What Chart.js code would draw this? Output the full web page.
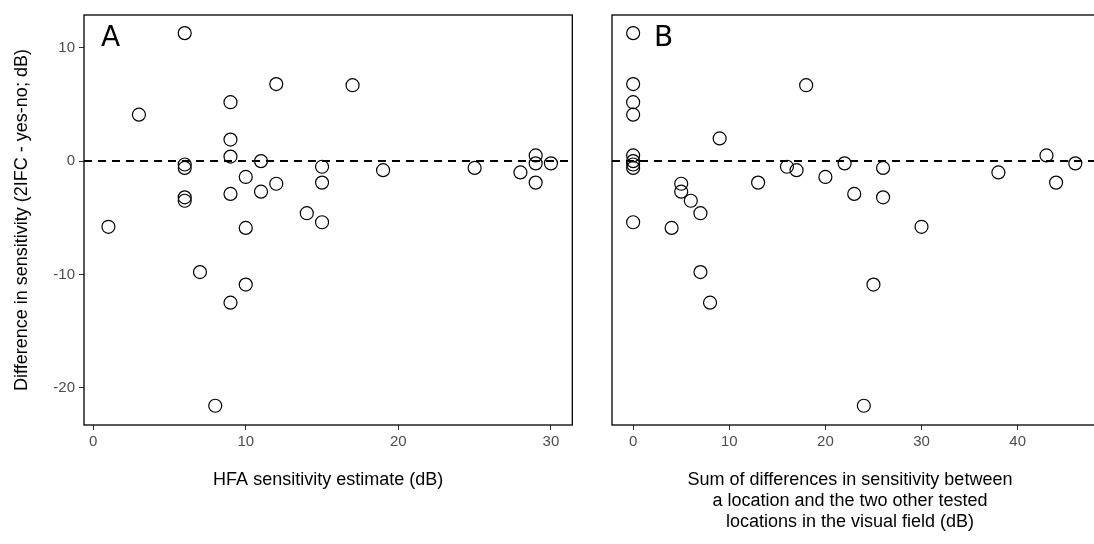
<!DOCTYPE html>
<html><head><meta charset="utf-8">
<script src="https://cdn.jsdelivr.net/npm/chart.js@4"></script>
<style>
body{margin:0;background:#fff;width:1094px;height:544px;overflow:hidden;position:relative}
.w{position:absolute;top:0;height:544px}
</style></head><body>
<div class="w" style="left:0;width:580px"><canvas id="ca"></canvas></div>
<div class="w" style="left:580px;width:528px"><canvas id="cb"></canvas></div>
<script>
// panel A: HFA sensitivity vs difference
const hfaX = [6,3,9,12,17,9,9,6,6,11,10,12,11,9,6,6,15,15,19,14,15,1,10,7,10,9,8,25,28,29,29,29,30];
const diffA = [11.3,4.1,5.2,6.8,6.7,1.9,0.4,-0.3,-0.6,0,-1.4,-2.0,-2.7,-2.9,-3.2,-3.5,-0.5,-1.9,-0.8,-4.6,-5.4,-5.8,-5.9,-9.8,-10.9,-12.5,-21.6,-0.6,-1.0,0.5,-0.2,-1.9,-0.2];
// panel B: sum of differences vs difference
const sumX = [0,0,0,0,0,0,0,0,0,4,5,5,6,7,7,8,9,13,16,17,18,20,22,23,26,26,25,24,30,38,43,44,46];
const diffB = [11.3,6.8,5.2,4.1,0.5,0,-0.3,-0.6,-5.4,-5.9,-2.0,-2.7,-3.5,-4.6,-9.8,-12.5,2.0,-1.9,-0.5,-0.8,6.7,-1.4,-0.2,-2.9,-0.6,-3.2,-10.9,-21.6,-5.8,-1.0,0.5,-1.9,-0.2];
const xTicksA = [0,10,20,30];
const xTicksB = [0,10,20,30,40];
const yTicks = [-20,-10,0,10];

const tickFont = {family:'Liberation Sans', size:15};
const deco = {
  id:'deco',
  beforeDatasetsDraw(c, a, o){
    const ctx=c.ctx, ca=c.chartArea, y0=c.scales.y.getPixelForValue(0);
    ctx.save();
    ctx.strokeStyle='#000'; ctx.lineWidth=2; ctx.setLineDash([8,6]);
    ctx.beginPath(); ctx.moveTo(ca.left,y0); ctx.lineTo(ca.right,y0); ctx.stroke();
    ctx.restore();
  },
  afterDraw(c, a, o){
    const ctx=c.ctx, ca=c.chartArea;
    ctx.save();
    ctx.strokeStyle='#000'; ctx.lineWidth=1.3;
    ctx.strokeRect(ca.left,ca.top,ca.width,ca.height);
    ctx.fillStyle='#000';
    ctx.font='28px "DejaVu Sans"'; ctx.textBaseline='top'; ctx.textAlign='left';
    ctx.fillText(o.letter, ca.left+o.lx, ca.top+10);
    ctx.font='18px "Liberation Sans"'; ctx.textAlign='center';
    o.xtitle.forEach((t,i)=>ctx.fillText(t, o.tx||(ca.left+ca.right)/2, o.ty+i*21));
    if(o.ytitle){
      ctx.translate(22,(ca.top+ca.bottom)/2); ctx.rotate(-Math.PI/2);
      ctx.textBaseline='middle'; ctx.fillText(o.ytitle,0,0);
    }
    ctx.restore();
  }
};

function make(id, xs, ys, xmin, xmax, xt, letter, lx, xtitle, ty, tx, ytitle, yw){
  new Chart(document.getElementById(id), {
    type:'scatter',
    data:{datasets:[{data:xs.map((x,i)=>({x:x,y:ys[i]})),
      pointRadius:6.5, pointHoverRadius:6.5, backgroundColor:'rgba(0,0,0,0)', borderColor:'#000', borderWidth:1.2}]},
    options:{
      responsive:true, maintainAspectRatio:false, animation:false,
      layout:{padding:{top:15,right:ytitle?5:0,left:0,bottom:0}},
      plugins:{legend:{display:false}, tooltip:{enabled:false}, deco:{letter, lx, xtitle, ty, tx, ytitle}},
      scales:{
        x:{type:'linear', min:xmin, max:xmax, border:{display:false},
           afterBuildTicks(s){ s.ticks = xt.map(v=>({value:v})); },
           ticks:{color:'#4d4d4d', font:tickFont, padding:3, maxRotation:0, autoSkip:false},
           grid:{drawOnChartArea:false, tickLength:5, color:'#333'},
           afterFit(s){ s.height=119; }},
        y:{min:-23.3, max:12.9, border:{display:false},
           afterBuildTicks(s){ s.ticks = yTicks.map(v=>({value:v})); },
           ticks:{display:!!ytitle, color:'#4d4d4d', font:tickFont, padding:4},
           grid:{drawOnChartArea:false, tickLength:ytitle?5:0, color:'#333', display:!!ytitle},
           afterFit(s){ s.width=yw; }}
      }
    },
    plugins:[deco]
  });
}
make('ca', hfaX, diffA, -0.6, 31.4, xTicksA, 'A', 17, ['HFA sensitivity estimate (dB)'], 471, null,
     'Difference in sensitivity (2IFC - yes-no; dB)', 84);
make('cb', sumX, diffB, -2.2, 48.6, xTicksB, 'B', 42,
     ['Sum of differences in sensitivity between','a location and the two other tested','locations in the visual field (dB)'], 471, 270, null, 32);
</script>
</body></html>
